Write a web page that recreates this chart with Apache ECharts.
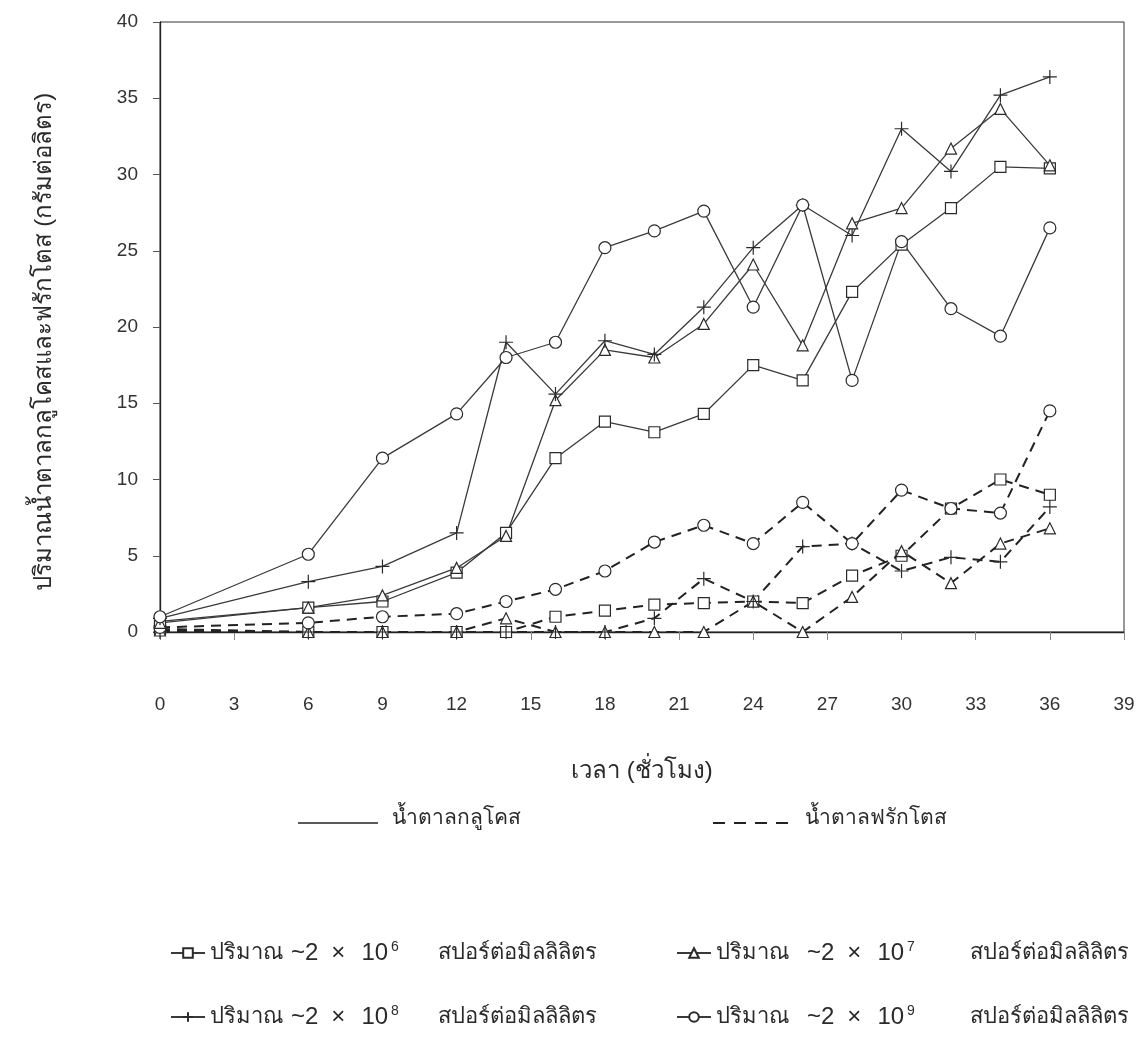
<!DOCTYPE html>
<html>
<head>
<meta charset="utf-8">
<script src="https://cdn.jsdelivr.net/npm/echarts@6/dist/echarts.min.js"></script>
<style>
  html, body { margin: 0; padding: 0; background: #fff; }
  #chart { width: 1146px; height: 1042px; }
</style>
</head>
<body>
<div id="chart"></div>
<script>
// Sampling times (hours)
const hours = [0, 6, 9, 12, 14, 16, 18, 20, 22, 24, 26, 28, 30, 32, 34, 36];

// Glucose concentration (g/L), one list per inoculum level
const glucose2e6 = [0.7, 1.6, 2.0, 3.9, 6.5, 11.4, 13.8, 13.1, 14.3, 17.5, 16.5, 22.3, 25.4, 27.8, 30.5, 30.4];
const glucose2e7 = [0.6, 1.6, 2.4, 4.2, 6.3, 15.2, 18.5, 18.0, 20.2, 24.1, 18.8, 26.8, 27.8, 31.7, 34.3, 30.6];
const glucose2e8 = [0.9, 3.3, 4.3, 6.5, 19.0, 15.6, 19.1, 18.2, 21.3, 25.2, 28.0, 26.0, 33.0, 30.2, 35.2, 36.4];
const glucose2e9 = [1.0, 5.1, 11.4, 14.3, 18.0, 19.0, 25.2, 26.3, 27.6, 21.3, 28.0, 16.5, 25.6, 21.2, 19.4, 26.5];

// Fructose concentration (g/L)
const fructose2e6 = [0.2, 0, 0, 0, 0, 1.0, 1.4, 1.8, 1.9, 2.0, 1.9, 3.7, 5.0, 8.1, 10.0, 9.0];
const fructose2e7 = [0.1, 0, 0, 0, 0.9, 0, 0, 0, 0, 2.0, 0, 2.3, 5.3, 3.2, 5.8, 6.8];
const fructose2e8 = [0, 0, 0, 0, 0, 0, 0, 0.9, 3.5, 2.0, 5.6, 5.8, 4.0, 4.9, 4.6, 8.2];
const fructose2e9 = [0.3, 0.6, 1.0, 1.2, 2.0, 2.8, 4.0, 5.9, 7.0, 5.8, 8.5, 5.8, 9.3, 8.1, 7.8, 14.5];

// Inoculum levels: legend key, exponent shown in the label, marker
const levelKeys = ['lv6', 'lv7', 'lv8', 'lv9'];
const levelExponents = ['6', '7', '8', '9'];
const levelSymbols = ['rect', 'triangle', 'path://M5,0L5,10M0,5L10,5', 'circle'];

const glucoseSets = [glucose2e6, glucose2e7, glucose2e8, glucose2e9];
const fructoseSets = [fructose2e6, fructose2e7, fructose2e8, fructose2e9];

const sugarNames = ['น้ำตาลกลูโคส', 'น้ำตาลฟรักโตส'];

const FONT = "'Liberation Sans', Arial, 'Noto Sans', sans-serif";
const INK = '#2a2a2a';

function pairs(values) {
  return hours.map((h, i) => [h, values[i]]);
}

function markerSize(i) {
  return levelSymbols[i] === 'circle' ? 12 : (i === 2 ? 14 : 11);
}

const series = [];
levelKeys.forEach((key, i) => {
  series.push({
    name: key,
    type: 'line',
    data: pairs(glucoseSets[i]),
    symbol: levelSymbols[i],
    symbolSize: markerSize(i),
    lineStyle: { color: '#3a3a3a', width: 1.3, type: 'solid' },
    itemStyle: { color: '#fff', borderColor: INK, borderWidth: 1.2 },
    z: 3
  });
});
levelKeys.forEach((key, i) => {
  series.push({
    name: key,
    type: 'line',
    data: pairs(fructoseSets[i]),
    symbol: levelSymbols[i],
    symbolSize: markerSize(i),
    lineStyle: { color: '#222', width: 2, type: [10, 7] },
    itemStyle: { color: '#fff', borderColor: INK, borderWidth: 1.2 },
    z: 2
  });
});

// Rich-text pieces of the inoculum legend labels; the two columns differ only in spacing
function legendRich(gapNum, gapUnit) {
  return {
    t: { fontFamily: FONT, fontSize: 22, color: INK, lineHeight: 26 },
    n0: { fontFamily: FONT, fontSize: 24, color: INK, lineHeight: 26, padding: [0, 0, 0, gapNum] },
    n: { fontFamily: FONT, fontSize: 24, color: INK, lineHeight: 26 },
    x: { fontFamily: FONT, fontSize: 24, color: INK, lineHeight: 26, padding: [0, 16, 0, 13] },
    s: { fontFamily: FONT, fontSize: 14, color: INK, verticalAlign: 'top', lineHeight: 26, padding: [0, 0, 10, 3] },
    u: { fontFamily: FONT, fontSize: 22, color: INK, lineHeight: 26, padding: [0, 0, 0, gapUnit] }
  };
}

function legendFor(idx, left, top, gapNum, gapUnit) {
  return {
    show: true,
    data: [levelKeys[idx]],
    left: left,
    top: top,
    padding: 0,
    itemWidth: 34,
    itemHeight: 12,
    selectedMode: false,
    formatter: function () {
      return '{t|ปริมาณ}{n0|~2}{x|×}{n|10}{s|' + levelExponents[idx] + '}{u|สปอร์ต่อมิลลิลิตร}';
    },
    textStyle: { rich: legendRich(gapNum, gapUnit) }
  };
}

const option = {
  animation: false,
  backgroundColor: '#fff',
  textStyle: { fontFamily: FONT },
  grid: {
    left: 160, right: 22, top: 22, bottom: 410,
    show: true, borderColor: '#333', borderWidth: 1, backgroundColor: 'transparent'
  },
  xAxis: {
    type: 'value',
    min: 0, max: 39, interval: 3,
    name: 'เวลา (ชั่วโมง)',
    nameLocation: 'middle',
    nameGap: 127,
    nameTextStyle: { fontFamily: FONT, fontSize: 24, color: INK },
    axisLine: { lineStyle: { color: '#222', width: 1.3 } },
    axisTick: { show: true, inside: false, length: 8, lineStyle: { color: '#888' } },
    axisLabel: { margin: 63, fontFamily: FONT, fontSize: 19, color: '#333' },
    splitLine: { show: false }
  },
  yAxis: {
    type: 'value',
    min: 0, max: 40, interval: 5,
    name: 'ปริมาณน้ำตาลกลูโคสและฟรักโตส (กรัมต่อลิตร)',
    nameLocation: 'middle',
    nameGap: 104,
    nameRotate: 90,
    nameTextStyle: { fontFamily: FONT, fontSize: 24, color: INK, padding: [0, 30, 0, 0] },
    axisLine: { show: true, lineStyle: { color: '#222', width: 1.3 } },
    axisTick: { show: true, inside: false, length: 7, lineStyle: { color: '#555' } },
    axisLabel: { margin: 22, fontFamily: FONT, fontSize: 19, color: '#333' },
    splitLine: { show: false }
  },
  legend: [
    legendFor(0, 170, 940, 8, 39),
    legendFor(1, 676, 940, 18, 55),
    legendFor(2, 170, 1004, 8, 39),
    legendFor(3, 676, 1004, 18, 55)
  ],
  graphic: [
    { type: 'line', shape: { x1: 298, y1: 823, x2: 378, y2: 823 }, style: { stroke: '#222', lineWidth: 1.5 } },
    { type: 'text', left: 392, top: 808, style: { text: sugarNames[0], fontFamily: FONT, fontSize: 21, fill: INK } },
    { type: 'line', shape: { x1: 713, y1: 823, x2: 790, y2: 823 }, style: { stroke: '#222', lineWidth: 2, lineDash: [12, 9] } },
    { type: 'text', left: 805, top: 808, style: { text: sugarNames[1], fontFamily: FONT, fontSize: 21, fill: INK } }
  ],
  series: series
};

const chart = echarts.init(document.getElementById('chart'), null, { renderer: 'canvas' });
chart.setOption(option);
</script>
</body>
</html>
